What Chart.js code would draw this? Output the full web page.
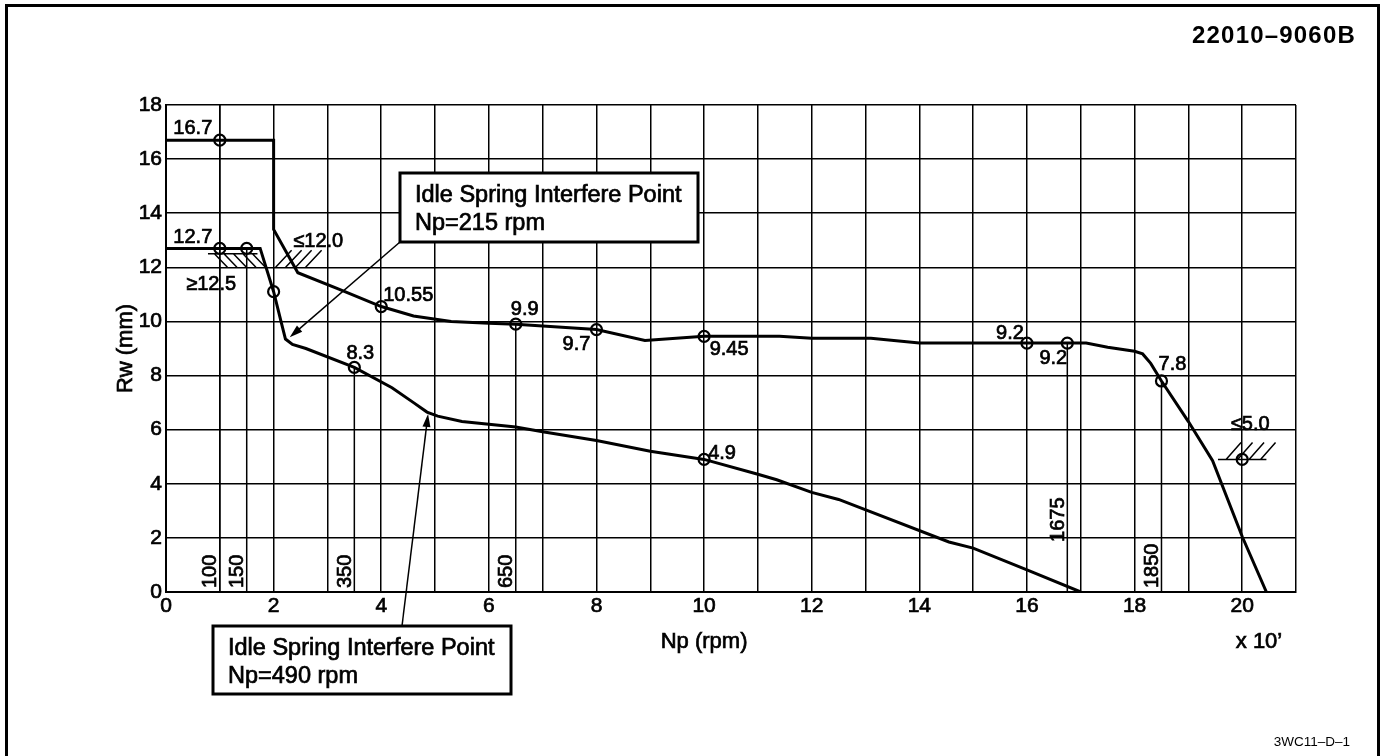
<!DOCTYPE html>
<html lang="en">
<head>
<meta charset="UTF-8">
<title>Rw - Np</title>
<script src="https://cdn.jsdelivr.net/npm/chart.js@4"></script>
<style>
    body { margin: 0; background: #fff; }
    canvas { display: block; }
</style>
</head>
<body>
<canvas id="rwChart" width="1388" height="756"></canvas>
<script>
    // upper curve (full load), Np in x100 rpm, Rw in mm
    const fullX = [0, 2, 2, 2.45, 3.2, 4, 4.6, 5.3, 6, 6.5, 8, 8.9, 10, 11.4, 12, 13.1, 14, 16, 16.75, 17.1, 17.5, 18, 18.15, 18.3, 18.5, 19, 19.45, 20, 20.45];
    const fullY = [16.7, 16.7, 13.4, 11.8, 11.2, 10.55, 10.2, 10.0, 9.93, 9.9, 9.7, 9.3, 9.45, 9.45, 9.38, 9.38, 9.2, 9.2, 9.2, 9.2, 9.05, 8.9, 8.8, 8.45, 7.8, 6.3, 4.85, 2.05, 0];

    // lower curve (idle)
    const idleX = [0, 1.75, 2, 2.15, 2.22, 2.35, 2.6, 3.5, 4.2, 4.6, 4.85, 5.05, 5.5, 6.5, 7, 8, 9, 10, 11, 11.35, 12, 12.5, 14.55, 15, 16, 17];
    const idleY = [12.7, 12.7, 11.1, 9.9, 9.35, 9.15, 9.0, 8.3, 7.55, 7.0, 6.65, 6.5, 6.3, 6.1, 5.92, 5.6, 5.2, 4.9, 4.35, 4.15, 3.68, 3.42, 1.85, 1.62, 0.82, 0];

    // measuring points and their values
    const markX = [1, 1, 1.5, 2, 4, 3.5, 6.5, 8, 10, 10, 16, 16.75, 18.5, 20];
    const markY = [16.7, 12.7, 12.7, 11.1, 10.55, 8.3, 9.9, 9.7, 9.45, 4.9, 9.2, 9.2, 7.8, 4.9];
    const markText = ['16.7', '12.7', '', '', '10.55', '8.3', '9.9', '9.7', '9.45', '4.9', '9.2', '9.2', '7.8', ''];

    // reference speeds (rpm) with a vertical line up to the curve
    const rpmValues = [100, 150, 350, 650, 1675, 1850];
    const rpmTop = [18, 12.7, 8.3, 9.9, 9.2, 7.8];

    // limits
    const limitText = ['≥12.5', '≤12.0', '≤5.0'];
    const limitValue = [12.5, 12.0, 4.9];

    const xTicks = [0, 2, 4, 6, 8, 10, 12, 14, 16, 18, 20];

    const FONT = '"Liberation Sans", Arial, Helvetica, sans-serif';

    const toPoints = (xs, ys) => xs.map((x, i) => ({ x: x, y: ys[i] }));

    const datasets = [];
    rpmValues.forEach((rpm, i) => {
        datasets.push({
            data: [{ x: rpm / 100, y: 0 }, { x: rpm / 100, y: rpmTop[i] }],
            showLine: true, borderColor: '#000', borderWidth: 1.5, pointRadius: 0
        });
    });
    datasets.push({
        data: toPoints(fullX, fullY),
        showLine: true, borderColor: '#000', borderWidth: 3, pointRadius: 0, tension: 0
    });
    datasets.push({
        data: toPoints(idleX, idleY),
        showLine: true, borderColor: '#000', borderWidth: 3, pointRadius: 0, tension: 0
    });
    datasets.push({
        data: toPoints(markX, markY),
        showLine: false, pointRadius: 5.5, borderWidth: 2.2,
        borderColor: '#000', backgroundColor: 'rgba(0,0,0,0)'
    });

    // label nudges in px (dx, dy) for each point label
    const labelNudge = [[-27, -12], [-27, -11], [0, 0], [0, 0], [27, -11], [6, -14], [9, -15],
        [-20, 15], [25, 13], [18, -6], [-17, -10], [-14, 15], [11, -16], [0, 0]];

    // filled text with a thin outline, a bit heavier than the plain face
    function txt(c, s, x, y) {
        c.fillText(s, x, y);
        c.lineWidth = 0.7;
        c.strokeText(s, x, y);
    }

    function arrow(c, x1, y1, x2, y2) {
        const a = Math.atan2(y2 - y1, x2 - x1);
        c.lineWidth = 1.5;
        c.beginPath();
        c.moveTo(x1, y1);
        c.lineTo(x2 - 10 * Math.cos(a), y2 - 10 * Math.sin(a));
        c.stroke();
        c.beginPath();
        c.moveTo(x2, y2);
        c.lineTo(x2 - 13 * Math.cos(a) + 4 * Math.sin(a), y2 - 13 * Math.sin(a) - 4 * Math.cos(a));
        c.lineTo(x2 - 13 * Math.cos(a) - 4 * Math.sin(a), y2 - 13 * Math.sin(a) + 4 * Math.cos(a));
        c.closePath();
        c.fill();
    }

    function box(c, x, y, w, h, lines) {
        c.fillStyle = '#fff';
        c.fillRect(x, y, w, h);
        c.lineWidth = 3;
        c.strokeRect(x, y, w, h);
        c.fillStyle = '#000';
        c.font = '23.5px ' + FONT;
        c.textAlign = 'left';
        c.textBaseline = 'alphabetic';
        txt(c, lines[0], x + 15, y + 29);
        txt(c, lines[1], x + 15, y + 57);
    }

    const extras = {
        id: 'extras',
        beforeDraw(chart) {
            const c = chart.ctx;
            c.save();
            c.fillStyle = '#fff';
            c.fillRect(0, 0, chart.width, chart.height);
            // frame: left, top and right edges
            c.strokeStyle = '#000';
            c.lineWidth = 3;
            c.beginPath();
            c.moveTo(6.5, 756); c.lineTo(6.5, 5.5); c.lineTo(1378.5, 5.5); c.lineTo(1378.5, 756);
            c.stroke();
            c.restore();
        },
        afterDatasetsDraw(chart) {
            const c = chart.ctx;
            const sx = chart.scales.x, sy = chart.scales.y;
            const px = v => sx.getPixelForValue(v);
            const py = v => sy.getPixelForValue(v);
            c.save();
            c.fillStyle = '#000';
            c.strokeStyle = '#000';

            // point values
            c.font = '20px ' + FONT;
            c.textAlign = 'center';
            c.textBaseline = 'middle';
            markText.forEach((t, i) => {
                if (!t) return;
                txt(c, t, px(markX[i]) + labelNudge[i][0], py(markY[i]) + labelNudge[i][1]);
            });

            // rotated rpm labels along the reference lines
            rpmValues.forEach(rpm => {
                c.save();
                c.translate(px(rpm / 100) - 9, rpm === 1675 ? py(2) + 4 : py(0) - 4);
                c.rotate(-Math.PI / 2);
                c.textAlign = 'left';
                txt(c, String(rpm), 0, 0);
                c.restore();
            });

            // limit hatches
            c.lineWidth = 1.5;
            let yb = py(limitValue[0]);
            c.beginPath();
            c.moveTo(px(0.78), yb); c.lineTo(px(1.7), yb);
            for (let i = 0; i < 5; i++) {
                const x0 = px(0.9) + i * 9.5;
                c.moveTo(x0, yb); c.lineTo(x0 + 13, py(12));
            }
            yb = py(limitValue[1]);
            for (let i = 0; i < 4; i++) {
                const x0 = px(2) + 2 + i * 10;
                c.moveTo(x0, yb); c.lineTo(x0 + 16, yb - 17);
            }
            yb = py(limitValue[2]);
            c.moveTo(px(19.55), yb); c.lineTo(px(20.45), yb);
            for (let i = 0; i < 4; i++) {
                const x0 = px(19.7) + i * 11.5;
                c.moveTo(x0, yb); c.lineTo(x0 + 15, yb - 17);
            }
            c.stroke();
            txt(c, limitText[0], px(0.84), py(11.35));
            txt(c, limitText[1], px(2.83), py(12.97));
            txt(c, limitText[2], px(20.15), py(6.2));

            // interference point callouts
            arrow(c, 400, 242, px(2.3), py(9.42));
            arrow(c, 402, 626, px(4.87), py(6.58));
            box(c, 400, 173, 298, 69, ['Idle Spring Interfere Point', 'Np=215 rpm']);
            box(c, 213, 626, 298, 68, ['Idle Spring Interfere Point', 'Np=490 rpm']);
            c.restore();
        },
        afterDraw(chart) {
            const c = chart.ctx;
            const sx = chart.scales.x, sy = chart.scales.y;
            c.save();
            c.fillStyle = '#000';
            c.strokeStyle = '#000';

            // tick labels
            c.font = '21px ' + FONT;
            c.textAlign = 'center';
            c.textBaseline = 'top';
            xTicks.forEach(v => txt(c, String(v), sx.getPixelForValue(v), sx.top + 4));
            c.textAlign = 'right';
            c.textBaseline = 'middle';
            sy.ticks.forEach(t => txt(c, String(t.value), sy.right - 4, sy.getPixelForValue(t.value)));

            c.textAlign = 'right';
            c.font = 'bold 24px ' + FONT;
            c.letterSpacing = '1.2px';
            c.fillText('22010–9060B', 1356, 36);
            c.letterSpacing = '0px';
            c.font = '13.5px ' + FONT;
            c.fillText('3WC11–D–1', 1350, 742);
            c.textAlign = 'center';
            c.font = '22px ' + FONT;
            txt(c, 'Np (rpm)', sx.getPixelForValue(10), 642);
            txt(c, 'x 10’', 1259, 642);
            c.translate(126, (chart.chartArea.top + chart.chartArea.bottom) / 2);
            c.rotate(-Math.PI / 2);
            txt(c, 'Rw (mm)', 0, 0);
            c.restore();
        }
    };

    new Chart(document.getElementById('rwChart'), {
        type: 'scatter',
        data: { datasets: datasets },
        options: {
            responsive: false,
            animation: false,
            events: [],
            layout: { padding: { left: 0, top: 105, right: 92, bottom: 0 } },
            plugins: { legend: { display: false }, tooltip: { enabled: false } },
            scales: {
                x: {
                    type: 'linear', min: 0, max: 21,
                    afterFit: s => { s.height = 164; },
                    border: { display: true, color: '#000', width: 2 },
                    grid: { color: '#000', lineWidth: 1.5, drawTicks: false },
                    ticks: { stepSize: 1, autoSkip: false, display: false }
                },
                y: {
                    type: 'linear', min: 0, max: 18,
                    afterFit: s => { s.width = 166; },
                    border: { display: true, color: '#000', width: 2 },
                    grid: { color: '#000', lineWidth: 1.5, drawTicks: false },
                    ticks: { stepSize: 2, display: false }
                }
            }
        },
        plugins: [extras]
    });
</script>
</body>
</html>
